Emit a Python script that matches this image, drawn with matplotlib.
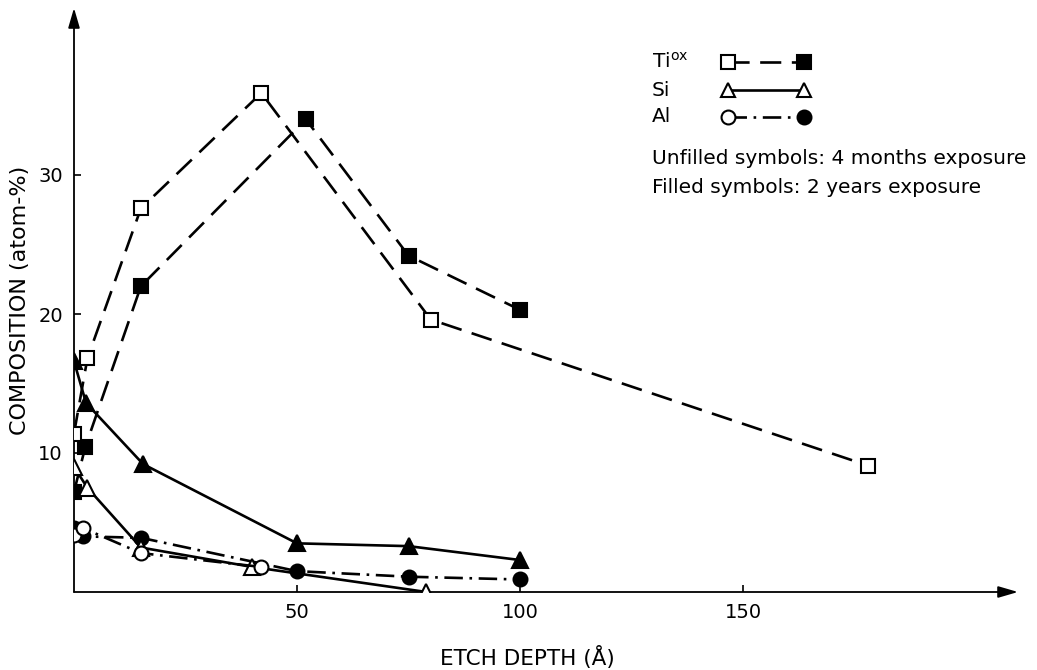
import matplotlib
matplotlib.use("Agg")
import matplotlib.pyplot as plt

plt.rcParams['font.family'] = ['DejaVu Sans']

# Data (etch depth in Å, composition in atom-%)
ti_open_x = [0, 3, 15, 42, 80, 178]
ti_open_y = [11.4, 16.8, 27.6, 35.9, 19.6, 9.1]
ti_fill_x = [0, 2.5, 15, 52, 75, 100]
ti_fill_y = [7.2, 10.4, 22.0, 34.0, 24.2, 20.3]

si_open_x = [0, 3, 15, 40, 79]
si_open_y = [9.0, 7.5, 3.2, 1.8, 0.0]
si_fill_x = [0, 2.7, 15.5, 50, 75, 100]
si_fill_y = [16.6, 13.6, 9.2, 3.5, 3.3, 2.3]

al_open_x = [0, 2, 15, 42]
al_open_y = [4.1, 4.6, 2.8, 1.8]
al_fill_x = [0, 2, 15, 50, 75, 100]
al_fill_y = [4.6, 4.0, 3.9, 1.5, 1.1, 0.9]

x_ticks = [50, 100, 150]
y_ticks = [10, 20, 30]

W, H = 1037, 670
fig = plt.figure(figsize=(W / 100, H / 100), dpi=100)
x0, x1 = 74, 1018
y0, y1 = 592, 8
ax = fig.add_axes([x0 / W, (H - y0) / H, (x1 - x0) / W, (y0 - y1) / H])
ax.set_xlim(0, (x1 - x0) / 4.46)
ax.set_ylim(0, (y0 - y1) / 13.9)
for s in ax.spines.values():
    s.set_visible(False)

# axes with arrows
ax.annotate('', xy=(1, 0), xytext=(0, 0), xycoords='axes fraction',
            arrowprops=dict(arrowstyle='-|>,head_length=1.2,head_width=0.35',
                            color='black', lw=1.3, shrinkA=0, shrinkB=0))
ax.annotate('', xy=(0, 1), xytext=(0, 0), xycoords='axes fraction',
            arrowprops=dict(arrowstyle='-|>,head_length=1.2,head_width=0.35',
                            color='black', lw=1.3, shrinkA=0, shrinkB=0))

ax.set_xticks(x_ticks)
ax.set_yticks(y_ticks)
ax.tick_params(direction='in', length=5, width=1.2, labelsize=14, pad=8)

lw = 1.9
dash = (8, 4)
dashdot = (7, 2.5, 1, 2.5)
ms = 10
mew = 1.5
k = 'black'

ax.plot(ti_open_x, ti_open_y, color=k, lw=lw, dashes=dash, marker='s', ms=ms,
        mfc='white', mec=k, mew=mew, zorder=4)
ax.plot(ti_fill_x, ti_fill_y, color=k, lw=lw, dashes=dash, marker='s', ms=ms,
        mfc=k, mec=k, mew=mew, zorder=3)
ax.plot(si_fill_x, si_fill_y, color=k, lw=lw, ls='-', marker='^', ms=ms + 1,
        mfc=k, mec=k, mew=mew, zorder=3)
ax.plot(si_open_x, si_open_y, color=k, lw=lw, ls='-', marker='^', ms=ms + 1,
        mfc='white', mec=k, mew=mew, zorder=4)
ax.plot(al_fill_x, al_fill_y, color=k, lw=lw, dashes=dashdot, marker='o', ms=ms,
        mfc=k, mec=k, mew=mew, zorder=3)
ax.plot(al_open_x, al_open_y, color=k, lw=lw, dashes=dashdot, marker='o', ms=ms,
        mfc='white', mec=k, mew=mew, zorder=4)

# legend drawn manually in figure pixel coordinates
def fx(px):
    return px / W

def fy(py):
    return (H - py) / H

leg_items = [
    ('Ti$^{\\mathregular{ox}}$', 's', k, dash, 62),
    ('Si', '^', 'white', None, 90),
    ('Al', 'o', k, dashdot, 117),
]
for label, mk, fill2, ds, py in leg_items:
    fig.text(fx(652), fy(py), label, fontsize=14.5, va='center', ha='left')
    line = plt.Line2D([fx(728), fx(804)], [fy(py), fy(py)], transform=fig.transFigure,
                      color=k, lw=lw, zorder=2)
    if ds is not None:
        line.set_dashes(ds)
    fig.add_artist(line)
    fig.add_artist(plt.Line2D([fx(728)], [fy(py)], transform=fig.transFigure,
                              marker=mk, ms=ms, mfc='white', mec=k, mew=mew,
                              ls='none', zorder=3))
    fig.add_artist(plt.Line2D([fx(804)], [fy(py)], transform=fig.transFigure,
                              marker=mk, ms=ms, mfc=fill2, mec=k, mew=mew,
                              ls='none', zorder=3))

fig.text(fx(652), fy(158), 'Unfilled symbols: 4 months exposure', fontsize=14.5,
         va='center', ha='left')
fig.text(fx(652), fy(187), 'Filled symbols: 2 years exposure', fontsize=14.5,
         va='center', ha='left')

fig.text(fx(527), fy(657), 'ETCH DEPTH (Å)', fontsize=15.5, ha='center', va='center')
fig.text(fx(20), fy(300), 'COMPOSITION (atom-%)', fontsize=16, ha='center',
         va='center', rotation=90)

fig.savefig('out.png', dpi=100)
